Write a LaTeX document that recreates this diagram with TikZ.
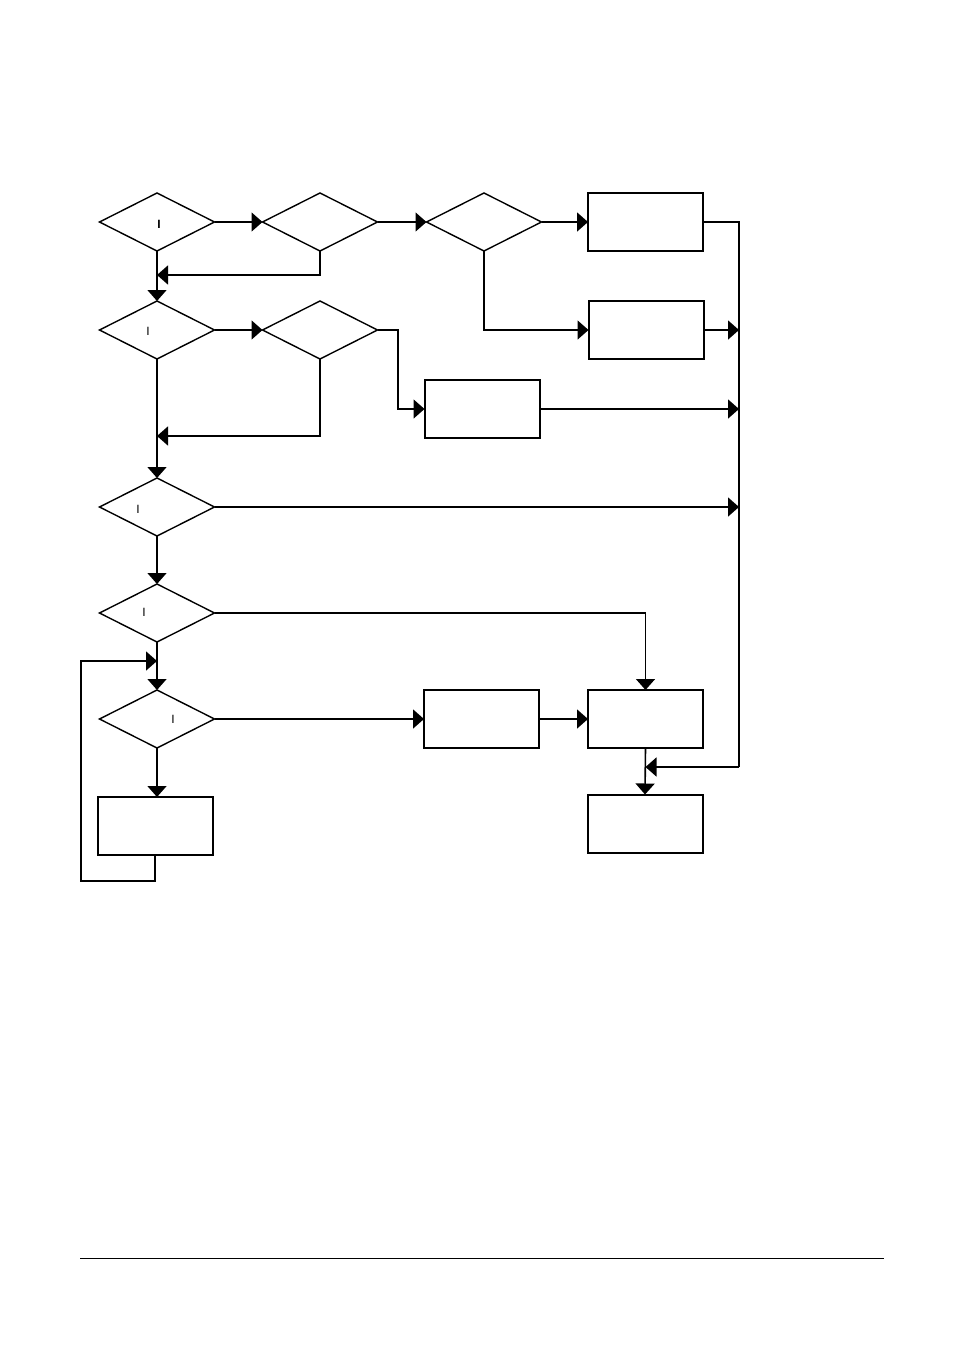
\documentclass[tikz,border=0pt]{standalone}
\usepackage{fontspec}
\setmainfont{Liberation Sans}
\usetikzlibrary{arrows.meta,shapes.geometric}
\begin{document}
\begin{tikzpicture}[x=1pt,y=-1pt,
  dec/.style={diamond,draw,line width=1.4pt,minimum width=115pt,minimum height=58pt,inner sep=0pt,outer sep=0pt,aspect=2},
  proc/.style={rectangle,draw,line width=2pt,minimum width=115pt,minimum height=58pt,inner sep=0pt,outer sep=0pt},
  lbl/.style={inner sep=0pt,font=\fontsize{12}{14}\selectfont},
  conn/.style={line width=1.6pt},
  arr/.style={conn,-{Triangle[length=11pt,width=19pt]}}]
\useasboundingbox (0,0) rectangle (954,1346);
% decisions
\node[dec] (d1) at (157,222) {};
\node[dec] (d2) at (320,222) {};
\node[dec] (d3) at (484,222) {};
\node[dec] (d4) at (157,330) {};
\node[dec] (d5) at (320,330) {};
\node[dec] (d6) at (157,507) {};
\node[dec] (d7) at (157,613) {};
\node[dec] (d8) at (157,719) {};
% labels
\node[lbl,font=\fontsize{12}{14}\selectfont\bfseries] (t1) at (159,224) {I};
\node[lbl] (t4) at (148,331) {I};
\node[lbl] (t6) at (138,509) {I};
\node[lbl] (t7) at (144,612) {I};
\node[lbl] (t8) at (173,719) {I};
% processes
\node[proc] (b1) at (645.5,222) {};
\node[proc] (b2) at (646,330) {};
\node[proc] (b3) at (482,409) {};
\node[proc] (b6) at (481.5,719) {};
\node[proc] (b4) at (645.5,719) {};
\node[proc] (b7) at (645,823.5) {};
\node[proc] (b5) at (155,826) {};
% helper coordinates
\coordinate (j1) at (157,275);
\coordinate (j2) at (157,436);
\coordinate (j3) at (157,661);
\coordinate (l1) at (81,881);
\coordinate (k1) at (398,330);
\coordinate (bus1) at (739,222);
\coordinate (bus2) at (739,767);
% connectors
\draw[arr] (d1.east) -- (d2.west);
\draw[arr] (d2.east) -- (d3.west);
\draw[arr] (d3.east) -- (b1.west);
\draw[arr] (d3.south) |- (b2.west);
\draw[conn] (b1.east) -- (bus1) -- (bus2);
\draw[arr] (b2.east) -- (b2.east -| bus1);
\draw[arr] (d2.south) |- (j1);
\draw[arr] (d1.south) -- (d4.north);
\draw[arr] (d4.east) -- (d5.west);
\draw[arr] (d5.east) -- (k1) |- (b3.west);
\draw[arr] (b3.east) -- (b3.east -| bus1);
\draw[arr] (d5.south) |- (j2);
\draw[arr] (d4.south) -- (d6.north);
\draw[arr] (d6.east) -- (d6.east -| bus1);
\draw[arr] (d6.south) -- (d7.north);
\draw[arr] (d7.east) -| (b4.north);
\draw[arr] (d7.south) -- (d8.north);
\draw[arr] (b5.south) |- (l1) |- (j3);
\draw[arr] (d8.south) -- (d8.south |- b5.north);
\draw[arr] (d8.east) -- (b6.west);
\draw[arr] (b6.east) -- (b4.west);
\draw[arr] (b4.south) -- (b7.north);
\draw[arr] (bus2) -- (b4.south |- bus2);
% footer rule
\draw[line width=1pt] (80,1258) -- (884,1258);
\end{tikzpicture}
\end{document}
